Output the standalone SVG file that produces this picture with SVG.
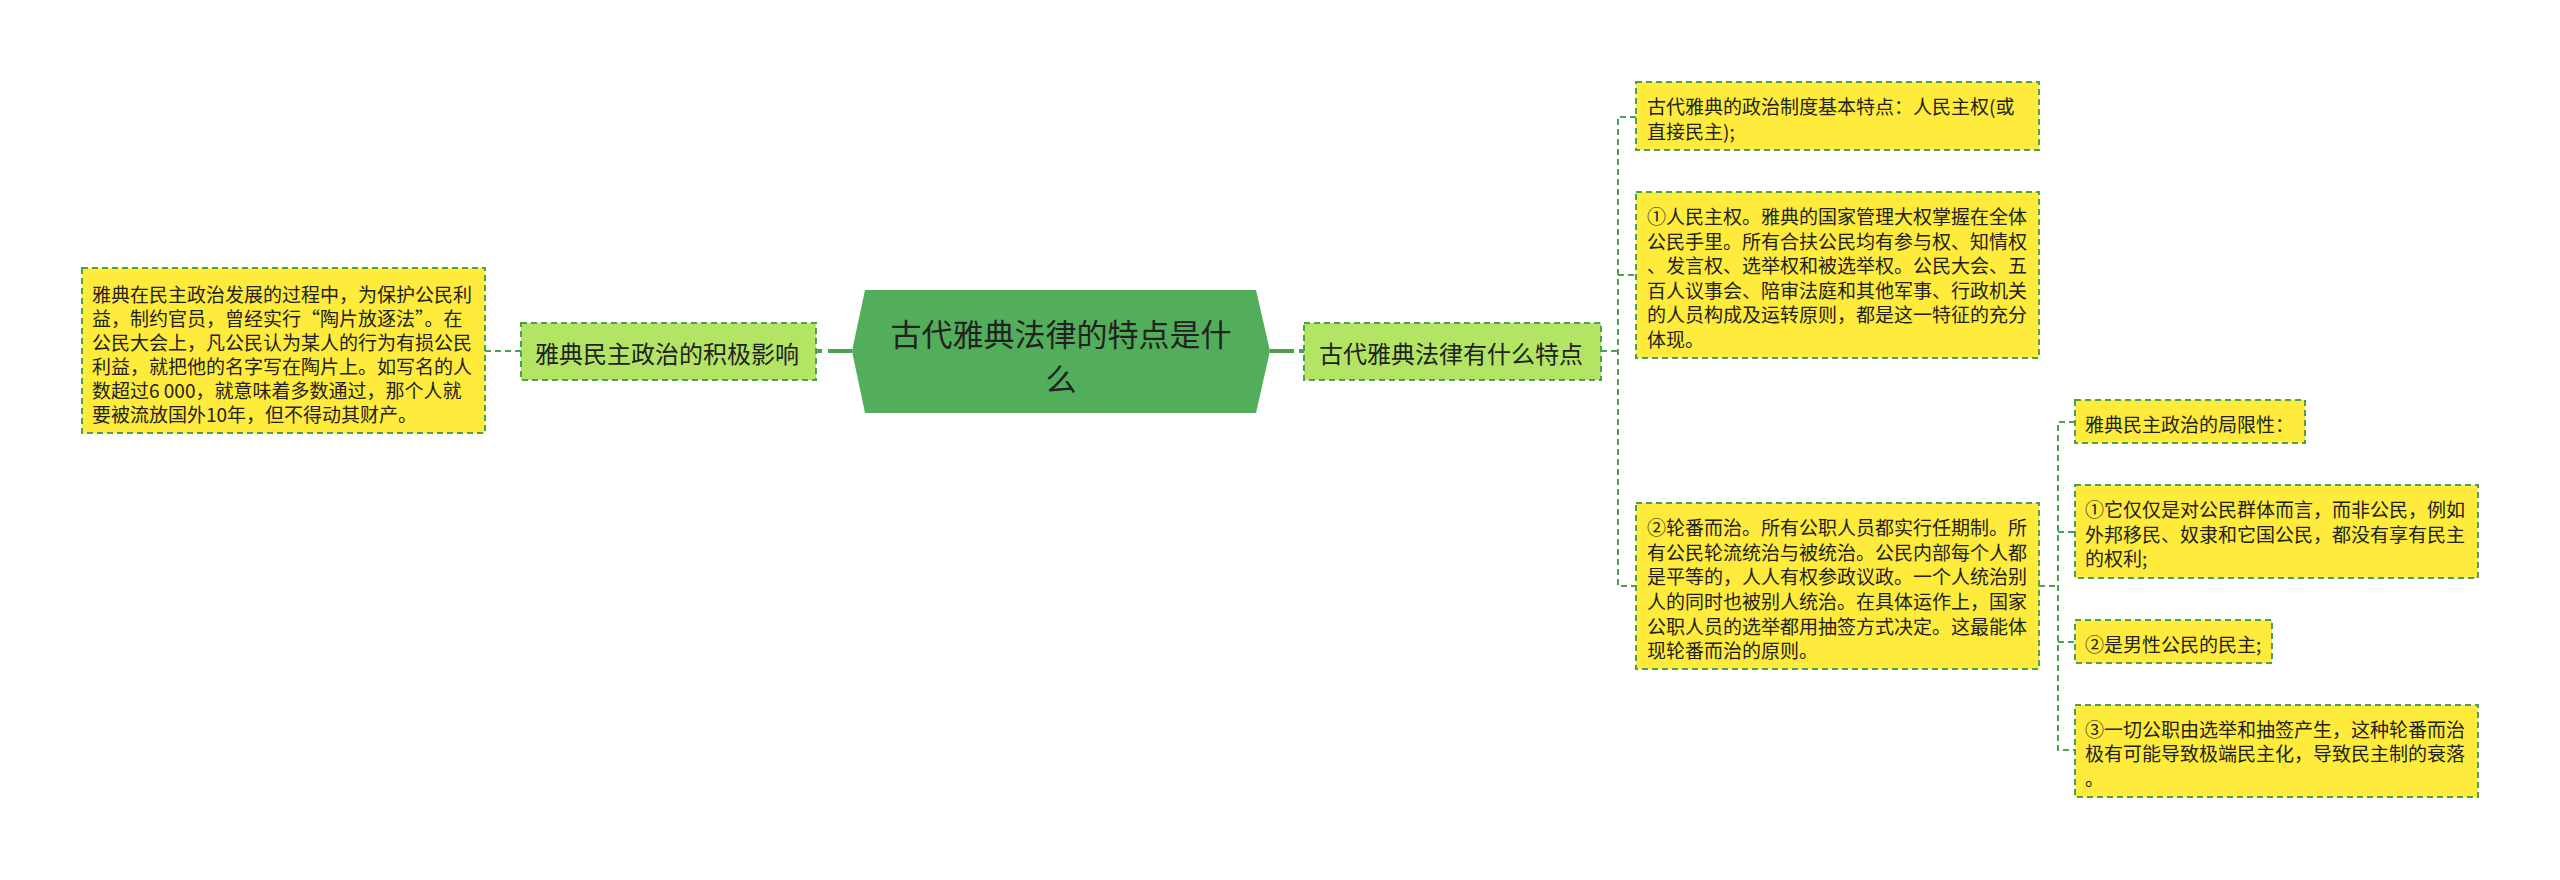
<svg xmlns="http://www.w3.org/2000/svg" width="2560" height="880" viewBox="0 0 2560 880">
<style>
text{font-family:"Noto Sans CJK SC","Noto Sans",sans-serif;fill:#222;dominant-baseline:central}
.leaf{fill:#ffeb3b;stroke:#4ca04f;stroke-width:2;stroke-dasharray:6 4}
.sub{fill:#b4e464;stroke:#4ca04f;stroke-width:2;stroke-dasharray:6 4}
.t19{font-size:19px}
.t24{font-size:24px}
.t31{font-size:31px;text-anchor:middle}
.dash{fill:none;stroke:#4ca04f;stroke-width:2;stroke-dasharray:6 4}
.thick{fill:none;stroke:#4ca04f;stroke-width:4}
</style>
<rect width="2560" height="880" fill="#ffffff"/>
<g id="connectors">
<line class="dash" x1="485" y1="351" x2="521" y2="351"/>
<line class="thick" x1="817" y1="351" x2="822" y2="351"/>
<line class="thick" x1="828" y1="351" x2="852" y2="351"/>
<line class="thick" x1="1270" y1="351" x2="1294" y2="351"/>
<line class="thick" x1="1299" y1="351" x2="1304" y2="351"/>
<line class="dash" x1="1601" y1="351" x2="1618" y2="351"/>
<path class="dash" d="M1636 117 H1618 V586 H1636 M1618 275 H1636"/>
<line class="dash" x1="2039" y1="586" x2="2058" y2="586"/>
<path class="dash" d="M2075 422 H2058 V750 H2075 M2058 532 H2075 M2058 642 H2075"/>
</g>
<g id="root">
<polygon points="852,351 865,290 1256,290 1270,351 1256,413 865,413" fill="#52ae5a"/>
<text class="t31" x="1061" y="332">古代雅典法律的特点是什</text>
<text class="t31" x="1061" y="377">么</text>
</g>
<g id="node-left">
<rect class="sub" x="521" y="323" width="295" height="57"/>
<text class="t24" x="535" y="352">雅典民主政治的积极影响</text>
</g>
<g id="node-left-detail">
<rect class="leaf" x="82" y="268" width="403" height="165"/>
<text class="t19" x="92" y="293">雅典在民主政治发展的过程中，为保护公民利</text>
<text class="t19" x="92" y="317">益，制约官员，曾经实行“陶片放逐法”。在</text>
<text class="t19" x="92" y="341">公民大会上，凡公民认为某人的行为有损公民</text>
<text class="t19" x="92" y="365">利益，就把他的名字写在陶片上。如写名的人</text>
<text class="t19" x="92" y="389">数超过6 000，就意味着多数通过，那个人就</text>
<text class="t19" x="92" y="413">要被流放国外10年，但不得动其财产。</text>
</g>
<g id="node-right">
<rect class="sub" x="1304" y="323" width="297" height="57"/>
<text class="t24" x="1319" y="352">古代雅典法律有什么特点</text>
</g>
<g id="node-r1">
<rect class="leaf" x="1636" y="82" width="403" height="68"/>
<text class="t19" x="1647" y="105">古代雅典的政治制度基本特点：人民主权(或</text>
<text class="t19" x="1647" y="130">直接民主);</text>
</g>
<g id="node-r2">
<rect class="leaf" x="1636" y="192" width="403" height="166"/>
<text class="t19" x="1647" y="215">①人民主权。雅典的国家管理大权掌握在全体</text>
<text class="t19" x="1647" y="240">公民手里。所有合扶公民均有参与权、知情权</text>
<text class="t19" x="1647" y="264">、发言权、选举权和被选举权。公民大会、五</text>
<text class="t19" x="1647" y="289">百人议事会、陪审法庭和其他军事、行政机关</text>
<text class="t19" x="1647" y="313">的人员构成及运转原则，都是这一特征的充分</text>
<text class="t19" x="1647" y="338">体现。</text>
</g>
<g id="node-r3">
<rect class="leaf" x="1636" y="503" width="403" height="166"/>
<text class="t19" x="1647" y="526">②轮番而治。所有公职人员都实行任期制。所</text>
<text class="t19" x="1647" y="551">有公民轮流统治与被统治。公民内部每个人都</text>
<text class="t19" x="1647" y="575">是平等的，人人有权参政议政。一个人统治别</text>
<text class="t19" x="1647" y="600">人的同时也被别人统治。在具体运作上，国家</text>
<text class="t19" x="1647" y="625">公职人员的选举都用抽签方式决定。这最能体</text>
<text class="t19" x="1647" y="649">现轮番而治的原则。</text>
</g>
<g id="node-r3a">
<rect class="leaf" x="2075" y="400" width="230" height="43"/>
<text class="t19" x="2085" y="423">雅典民主政治的局限性：</text>
</g>
<g id="node-r3b">
<rect class="leaf" x="2075" y="485" width="403" height="93"/>
<text class="t19" x="2085" y="508">①它仅仅是对公民群体而言，而非公民，例如</text>
<text class="t19" x="2085" y="533">外邦移民、奴隶和它国公民，都没有享有民主</text>
<text class="t19" x="2085" y="557">的权利;</text>
</g>
<g id="node-r3c">
<rect class="leaf" x="2075" y="620" width="197" height="43"/>
<text class="t19" x="2085" y="643">②是男性公民的民主;</text>
</g>
<g id="node-r3d">
<rect class="leaf" x="2075" y="705" width="403" height="92"/>
<text class="t19" x="2085" y="728">③一切公职由选举和抽签产生，这种轮番而治</text>
<text class="t19" x="2085" y="752">极有可能导致极端民主化，导致民主制的衰落</text>
<text class="t19" x="2085" y="777">。</text>
</g>
</svg>
